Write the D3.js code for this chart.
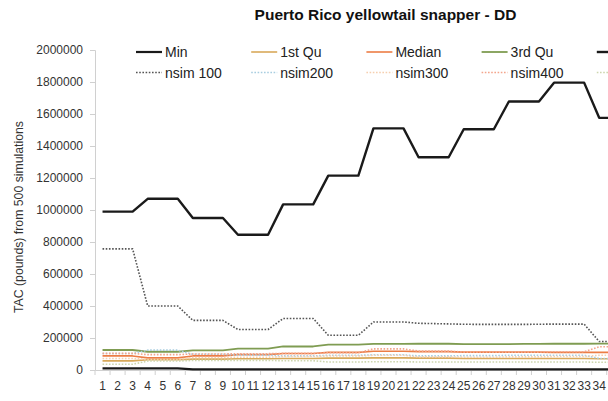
<!DOCTYPE html>
<html>
<head>
<meta charset="utf-8">
<script src="https://cdn.jsdelivr.net/npm/d3@7"></script>
<style>
  html, body { margin: 0; padding: 0; background: #fff; }
  svg { display: block; font-family: "Liberation Sans", Arial, sans-serif; }
</style>
</head>
<body>
<svg id="chart" width="608" height="401"></svg>
<script>
// Simulation year labels along the x axis
const years = [1,2,3,4,5,6,7,8,9,10,11,12,13,14,15,16,17,18,19,20,21,22,23,24,25,26,27,28,29,30,31,32,33,34,35];
const labelledYears = [1,2,3,4,5,6,7,8,9,10,11,12,13,14,15,16,17,18,19,20,21,22,23,24,25,26,27,28,29,30,31,32,33,34];

// Y axis tick values (pounds)
const yTicks = [0,200000,400000,600000,800000,1000000,1200000,1400000,1600000,1800000,2000000];

// Summary statistics of TAC across 500 simulations
const minTAC = [10000,10000,10000,10000,10000,10000,4000,4000,4000,4000,4000,4000,4000,4000,4000,4000,4000,4000,4000,4000,4000,4000,4000,4000,4000,4000,4000,4000,4000,4000,4000,4000,4000,4000,4000];
const q1TAC = [57000,57000,57000,64000,64000,64000,68000,68000,68000,70000,70000,70000,72000,72000,72000,74000,74000,74000,76000,76000,76000,74000,74000,74000,72000,72000,72000,72000,72000,72000,72000,72000,72000,70000,70000];
const medianTAC = [88000,88000,88000,76000,76000,76000,88000,88000,88000,96000,96000,96000,103000,103000,103000,110000,110000,110000,117000,117000,117000,115000,115000,115000,112000,112000,112000,112000,112000,112000,110000,110000,110000,110000,110000];
const q3TAC = [125000,125000,125000,114000,114000,114000,123000,123000,123000,133000,133000,133000,147000,147000,147000,158000,158000,158000,163000,163000,163000,164000,164000,164000,162000,162000,162000,162000,163000,163000,164000,164000,164000,165000,165000];
const maxTAC = [990000,990000,990000,1070000,1070000,1070000,950000,950000,950000,845000,845000,845000,1035000,1035000,1035000,1215000,1215000,1215000,1510000,1510000,1510000,1330000,1330000,1330000,1505000,1505000,1505000,1678000,1678000,1678000,1796000,1796000,1796000,1576000,1576000];

// Individual simulation trajectories
const nsim100 = [757000,757000,757000,400000,400000,400000,310000,310000,310000,253000,253000,253000,322000,322000,322000,217000,217000,217000,300000,300000,300000,292000,290000,288000,286000,285000,285000,285000,285000,286000,287000,287000,287000,178000,178000];
const nsim200 = [103000,103000,103000,124000,124000,124000,98000,98000,98000,93000,93000,93000,88000,88000,88000,92000,92000,92000,95000,95000,95000,88000,88000,88000,90000,90000,90000,92000,92000,92000,92000,92000,92000,72000,72000];
const nsim300 = [72000,72000,72000,66000,66000,66000,78000,78000,78000,80000,80000,80000,84000,84000,84000,88000,88000,88000,92000,92000,92000,82000,82000,82000,80000,80000,80000,82000,82000,82000,84000,84000,84000,92000,92000];
const nsim400 = [104000,104000,104000,96000,96000,96000,100000,100000,100000,102000,102000,102000,104000,104000,104000,108000,108000,108000,132000,132000,132000,118000,118000,118000,112000,112000,112000,112000,112000,112000,114000,114000,114000,145000,145000];
const nsim500 = [36000,36000,36000,56000,56000,56000,60000,60000,60000,60000,60000,60000,58000,58000,58000,50000,50000,50000,52000,52000,52000,50000,50000,50000,50000,50000,50000,50000,50000,50000,50000,50000,50000,48000,48000];

const seriesNames = ["Min","1st Qu","Median","3rd Qu","Max","nsim 100","nsim200","nsim300","nsim400","nsim500"];
const seriesValues = [minTAC, q1TAC, medianTAC, q3TAC, maxTAC, nsim100, nsim200, nsim300, nsim400, nsim500];
const seriesStyle = [
  { color: "#1a1a1a", width: 2.2, dash: null },
  { color: "#d8a95a", width: 1.6, dash: null },
  { color: "#ec7d45", width: 1.6, dash: null },
  { color: "#7f9c52", width: 1.8, dash: null },
  { color: "#1a1a1a", width: 2.4, dash: null },
  { color: "#555555", width: 1.6, dash: "1.6,1.6" },
  { color: "#a8cde0", width: 1.6, dash: "1.6,1.6" },
  { color: "#f6cfb0", width: 1.6, dash: "1.6,1.6" },
  { color: "#f3a58c", width: 1.6, dash: "1.6,1.6" },
  { color: "#cdd6ae", width: 1.6, dash: "1.6,1.6" }
];

const svg = d3.select("#chart");
const plot = { left: 95, top: 50, bottom: 370, band: 15.05 };

const x = d3.scaleBand()
  .domain(years)
  .range([plot.left, plot.left + plot.band * years.length])
  .paddingInner(0).paddingOuter(0);
const y = d3.scaleLinear().domain([0, 2000000]).range([plot.bottom, plot.top]);

// Title
svg.append("text")
  .attr("x", 385.5).attr("y", 20)
  .attr("text-anchor", "middle")
  .attr("font-weight", "bold")
  .attr("font-size", 15.5)
  .attr("fill", "#111")
  .text("Puerto Rico yellowtail snapper - DD");

// Y axis
const yAxis = d3.axisLeft(y).tickValues(yTicks).tickSize(5).tickPadding(7).tickFormat(d3.format("d"));
const gy = svg.append("g").attr("transform", `translate(${plot.left},0)`).call(yAxis);
gy.select(".domain").attr("stroke", "#d0d0d0");
gy.selectAll(".tick line").attr("stroke", "#d0d0d0");
gy.selectAll(".tick text").attr("font-size", 12).attr("fill", "#333").attr("font-family", "Liberation Sans, Arial, sans-serif");

// X axis with ticks between categories
const xAxis = d3.axisBottom(x).tickValues(labelledYears).tickSize(0).tickPadding(11);
const gx = svg.append("g").attr("transform", `translate(0,${plot.bottom})`).call(xAxis);
gx.select(".domain").attr("stroke", "#d0d0d0");
gx.selectAll(".tick text").attr("font-size", 12).attr("fill", "#333").attr("font-family", "Liberation Sans, Arial, sans-serif");
gx.selectAll(".sep").data(years).enter().append("line")
  .attr("class", "sep")
  .attr("x1", d => x(d)).attr("x2", d => x(d))
  .attr("y1", 0).attr("y2", 5)
  .attr("stroke", "#d0d0d0");

// Y axis title (condensed)
svg.append("text")
  .attr("transform", "translate(23,217) rotate(-90)")
  .attr("text-anchor", "middle")
  .attr("font-size", 12)
  .attr("fill", "#333")
  .attr("textLength", 192)
  .attr("lengthAdjust", "spacingAndGlyphs")
  .text("TAC (pounds) from 500 simulations");

// Series lines
const line = d3.line()
  .x((d, i) => x(years[i]) + x.bandwidth() / 2)
  .y(d => y(d));

seriesValues.forEach((vals, i) => {
  const st = seriesStyle[i];
  const p = svg.append("path")
    .datum(vals)
    .attr("d", line)
    .attr("fill", "none")
    .attr("stroke", st.color)
    .attr("stroke-width", st.width)
    .attr("stroke-linejoin", "round");
  if (st.dash) p.attr("stroke-dasharray", st.dash);
});

// Legend: two rows of five entries
const legend = svg.append("g");
seriesNames.forEach((name, i) => {
  const col = i % 5, row = Math.floor(i / 5);
  const lx = 136 + col * 115.2;
  const ly = 52 + row * 20.5;
  const st = seriesStyle[i];
  const ln = legend.append("line")
    .attr("x1", lx).attr("x2", lx + 26)
    .attr("y1", ly).attr("y2", ly)
    .attr("stroke", st.color)
    .attr("stroke-width", st.width);
  if (st.dash) ln.attr("stroke-dasharray", st.dash);
  legend.append("text")
    .attr("x", lx + 29).attr("y", ly + 5)
    .attr("font-size", 14)
    .attr("fill", "#222")
    .text(name);
});
</script>
</body>
</html>
